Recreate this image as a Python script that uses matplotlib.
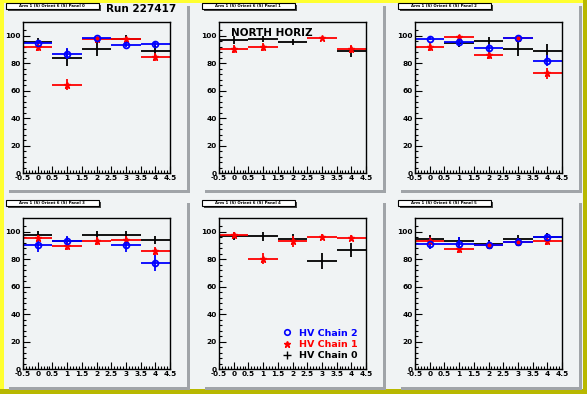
import numpy as np
import matplotlib
matplotlib.use("Agg")
import matplotlib.pyplot as plt
from matplotlib.patches import Rectangle
from matplotlib.lines import Line2D

nan = np.nan
bins = [0, 1, 2, 3, 4]
panel_titles = ["Arm 1 (S) Orient 6 (S) Panel 0", "Arm 1 (S) Orient 6 (S) Panel 1",
                "Arm 1 (S) Orient 6 (S) Panel 2", "Arm 1 (S) Orient 6 (S) Panel 3",
                "Arm 1 (S) Orient 6 (S) Panel 4", "Arm 1 (S) Orient 6 (S) Panel 5"]
series_labels = ["HV Chain 2", "HV Chain 1", "HV Chain 0"]

# HV Chain 2 (blue)
chain2_vals = [
    [94.9, 86.9, 98.3, 93.5, 94.2],
    [nan, nan, nan, nan, nan],
    [97.8, 95.4, 91.3, 98.1, 81.8],
    [90.1, 93.2, nan, 90.4, 77.3],
    [nan, nan, nan, nan, nan],
    [91.1, 91.1, 90.1, 92.5, 96.2],
]
chain2_errs = [
    [2.0, 4.0, 1.0, 2.0, 2.0],
    [0, 0, 0, 0, 0],
    [1.0, 3.0, 3.0, 1.0, 4.0],
    [5.0, 4.0, 0, 5.0, 6.0],
    [0, 0, 0, 0, 0],
    [4.0, 5.0, 3.0, 3.0, 2.0],
]
# HV Chain 1 (red)
chain1_vals = [
    [92.0, 64.2, 97.6, 97.6, 84.7],
    [90.3, 92.0, nan, 98.3, 90.3],
    [92.0, 99.3, 85.7, 98.3, 72.5],
    [95.4, 89.6, 93.5, 94.0, 86.0],
    [97.6, 80.4, 93.2, 96.2, 95.4],
    [93.2, 87.4, 90.4, 92.5, 93.2],
]
chain1_errs = [
    [3.0, 4.0, 1.5, 1.5, 3.0],
    [3.0, 3.0, 0, 1.0, 3.0],
    [3.0, 1.0, 3.0, 1.0, 4.0],
    [2.0, 3.0, 3.0, 3.0, 3.0],
    [2.0, 4.0, 4.0, 2.0, 2.0],
    [3.0, 3.0, 3.0, 3.0, 3.0],
]
# HV Chain 0 (black)
chain0_vals = [
    [95.4, 84.0, 90.5, 97.5, 89.1],
    [97.1, 97.6, 95.6, nan, 88.6],
    [nan, 94.9, 96.4, 90.5, 89.1],
    [97.4, 93.0, 97.4, 97.4, 94.2],
    [97.1, 96.6, 94.7, 78.7, 86.7],
    [94.7, 93.2, 91.1, 94.7, 96.2],
]
chain0_errs = [
    [3.0, 6.0, 5.0, 3.0, 4.0],
    [3.0, 2.5, 2.0, 0, 4.0],
    [0, 3.0, 3.0, 5.0, 5.0],
    [3.0, 3.0, 3.0, 3.0, 3.0],
    [3.0, 3.0, 4.0, 6.0, 5.0],
    [3.0, 3.0, 3.0, 3.0, 3.0],
]

W, H = 587, 394
fig = plt.figure(figsize=(W / 100, H / 100), dpi=100)
fig.patch.set_facecolor("#f0f3f4")

def frect(x, y, w, h, z=-1, **kw):
    fig.add_artist(Rectangle((x / W, 1 - (y + h) / H), w / W, h / H,
                             transform=fig.transFigure, zorder=z, **kw))

# canvas border
frect(0, 0, W, 3, z=-5, facecolor="#ffff30", edgecolor="none")
frect(0, 0, 4, H, z=-5, facecolor="#ffff30", edgecolor="none")
frect(583, 0, 4, H, z=-4, facecolor="#b8b800", edgecolor="none")
frect(0, 389, W, 5, z=-4, facecolor="#b8b800", edgecolor="none")

pad_x = [6, 202, 398]
pad_y = [3, 200]
pad_w, pad_h = 181, 187
frame_x = [23, 219, 415]
frame_y = [22, 218]
frame_w, frame_h = 147, 151

series = [
    (chain0_vals, chain0_errs, "black", "none", dict()),
    (chain1_vals, chain1_errs, "#ff0000", "*", dict(markersize=4.5)),
    (chain2_vals, chain2_errs, "#0000ff", "o", dict(markersize=4.2, markerfacecolor="none", markeredgewidth=1.3)),
]

for i in range(6):
    r, c = divmod(i, 3)
    px, py = pad_x[c], pad_y[r]
    frect(px + 3, py + 3, pad_w, pad_h, z=-3, facecolor="#a0a4a8", edgecolor="none")
    frect(px, py, pad_w, pad_h, z=-2, facecolor="#f0f3f4", edgecolor="none")
    # title box
    frect(px + 2, py + 2, 93, 6, z=2, facecolor="#444444", edgecolor="none")
    frect(px, py, 93, 6, z=3, facecolor="white", edgecolor="black", linewidth=0.8)
    fig.text((px + 46) / W, 1 - (py + 3) / H, panel_titles[i], fontsize=2.8,
             ha="center", va="center", fontweight="bold", zorder=4)

    fx, fy = frame_x[c], frame_y[r]
    ax = fig.add_axes([fx / W, 1 - (fy + frame_h) / H, frame_w / W, frame_h / H])
    ax.set_facecolor("#f0f3f4")
    ax.set_xlim(-0.5, 4.5)
    ax.set_ylim(0, 110)
    for vals, errs, col, mk, mkw in series:
        v = np.array(vals[i], dtype=float)
        e = np.array(errs[i], dtype=float)
        ax.errorbar(bins, v, xerr=0.5, yerr=e, fmt=mk, color=col, ecolor=col,
                    elinewidth=1.3, capsize=0, **mkw)
    ax.set_xticks(np.arange(-0.5, 4.51, 0.5))
    ax.set_xticklabels(["-0.5", "0", "0.5", "1", "1.5", "2", "2.5", "3", "3.5", "4", "4.5"])
    ax.set_xticks(np.arange(-0.5, 4.51, 0.1), minor=True)
    ax.set_yticks(np.arange(0, 101, 20))
    ax.set_yticks(np.arange(0, 106, 4), minor=True)
    ax.tick_params(which="both", direction="in", top=False, right=False,
                   labelsize=5.3, pad=1.5, width=0.8)
    ax.tick_params(which="major", length=5)
    ax.tick_params(which="minor", length=2.5)
    for lab in ax.get_xticklabels() + ax.get_yticklabels():
        lab.set_fontweight("bold")
    for s in ax.spines.values():
        s.set_linewidth(1.0)

    if i == 0:
        fig.text(106 / W, 1 - 9 / H, "Run 227417", fontsize=7.5, fontweight="bold",
                 va="center", ha="left")
    if i == 1:
        ax.text(0.08, 0.93, "NORTH HORIZ", transform=ax.transAxes, fontsize=7.5,
                fontweight="bold", va="center", ha="left")
    if i == 4:
        handles = [
            Line2D([], [], color="#0000ff", marker="o", linestyle="none",
                   markerfacecolor="none", markersize=4, markeredgewidth=1.2),
            Line2D([], [], color="#ff0000", marker="*", linestyle="none", markersize=5),
            Line2D([], [], color="black", marker="+", linestyle="none", markersize=6),
        ]
        leg = ax.legend(handles, series_labels, loc="lower right",
                        bbox_to_anchor=(1.0, 0.0), frameon=False,
                        prop=dict(size=6.8, weight="bold"), handletextpad=0.8,
                        labelspacing=0.25, handlelength=1.0,
                        labelcolor=["#0000ff", "#ff0000", "black"])

fig.savefig("out.png", dpi=100, facecolor=fig.get_facecolor())
